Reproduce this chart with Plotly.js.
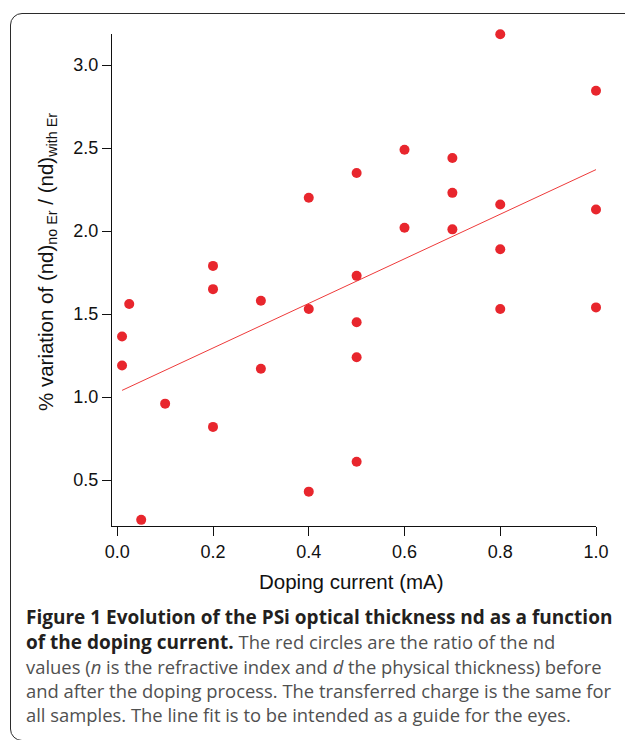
<!DOCTYPE html>
<html>
<head>
<meta charset="utf-8">
<script src="https://cdn.plot.ly/plotly-3.0.1.min.js"></script>
<style>
  html, body { margin: 0; padding: 0; background: #ffffff; overflow: hidden; }
  #wrap { position: relative; width: 625px; height: 740px; }
  #chart { position: absolute; left: 0; top: 0; width: 625px; height: 740px; }
  #frame { position: absolute; left: 10px; top: 13px; width: 640px; height: 728px;
           border: 1.6px solid #2b2b2b; border-radius: 12px; pointer-events: none; box-sizing: border-box; }
</style>
</head>
<body>
<div id="wrap">
  <div id="chart"></div>
  <div id="frame"></div>
</div>
<script>
// Data
const dopingCurrent = [0.01, 0.01, 0.025, 0.05, 0.1,
                       0.2, 0.2, 0.2, 0.3, 0.3,
                       0.4, 0.4, 0.4, 0.5, 0.5, 0.5, 0.5, 0.5,
                       0.6, 0.6, 0.7, 0.7, 0.7,
                       0.8, 0.8, 0.8, 0.8, 1.0, 1.0, 1.0];
const variation = [1.365, 1.19, 1.56, 0.26, 0.96,
                   1.79, 1.65, 0.82, 1.58, 1.17,
                   2.20, 1.53, 0.43, 2.35, 1.73, 1.45, 1.24, 0.61,
                   2.49, 2.02, 2.44, 2.23, 2.01,
                   3.185, 2.16, 1.89, 1.53, 2.845, 2.13, 1.54];
const fitX = [0.01, 1.0];
const fitY = [1.04, 2.37];

const xTickVals = [0.0, 0.2, 0.4, 0.6, 0.8, 1.0];
const xTickText = ["0.0", "0.2", "0.4", "0.6", "0.8", "1.0"];
const yTickVals = [0.5, 1.0, 1.5, 2.0, 2.5, 3.0];
const yTickText = ["0.5", "1.0", "1.5", "2.0", "2.5", "3.0"];

const xTitle = "Doping current (mA)";
const yTitle = "% variation of (nd)<sub>no Er</sub> / (nd)<sub>with Er</sub>";
const captionLines = [
  "<b>Figure 1 Evolution of the PSi optical thickness nd as a function</b>",
  "<b>of the doping current.</b> <span style='color:#505050;font-size:18.4px'>The red circles are the ratio of the nd</span>",
  "values (<i>n</i> is the refractive index and <i>d</i> the physical thickness) before",
  "and after the doping process. The transferred charge is the same for",
  "all samples. The line fit is to be intended as a guide for the eyes."
];

const W = 625, H = 740;
const mL = 112, mR = 29, mT = 34, mB = 214;
const pw = W - mL - mR, ph = H - mT - mB;
const px = v => (v - mL) / pw;
const py = v => (H - mB - v) / ph;

const redC = '#e8262d';
const traces = [
  {
    x: fitX, y: fitY, type: 'scatter', mode: 'lines',
    line: { color: '#ee3a3a', width: 1 }, hoverinfo: 'skip', cliponaxis: false
  },
  {
    x: dopingCurrent, y: variation, type: 'scatter', mode: 'markers',
    marker: { color: redC, size: 10, line: { width: 0 } }, cliponaxis: false
  }
];

const axisFont = { family: 'Liberation Sans, Arial, sans-serif', size: 18, color: '#111' };

const annotations = [
  { text: xTitle, xref: 'paper', yref: 'paper', x: px(351), y: py(581),
    xanchor: 'center', yanchor: 'middle', showarrow: false,
    font: { family: 'Liberation Sans, Arial, sans-serif', size: 20.5, color: '#111' } },
  { text: yTitle, xref: 'paper', yref: 'paper', x: px(47), y: py(262),
    xanchor: 'center', yanchor: 'middle', showarrow: false, textangle: -90,
    font: { family: 'Liberation Sans, Arial, sans-serif', size: 20.5, color: '#111' } }
];
const lineCenters = [617, 642, 666, 690, 714];
captionLines.forEach((t, i) => {
  const bold = (i === 0 || i === 1);
  annotations.push({
    text: t, xref: 'paper', yref: 'paper', x: px(24), y: py(lineCenters[i]),
    xanchor: 'left', yanchor: 'middle', showarrow: false, align: 'left',
    font: { family: 'Open Sans, sans-serif', size: bold ? 19 : 18.4, color: bold ? '#231f20' : '#505050' }
  });
});

const layout = {
  width: W, height: H,
  margin: { l: mL, r: mR, t: mT, b: mB, pad: 0 },
  paper_bgcolor: '#ffffff', plot_bgcolor: 'rgba(0,0,0,0)',
  showlegend: false,
  xaxis: {
    range: [-0.011, 1.0], showgrid: false, zeroline: false,
    showline: true, linecolor: '#111', linewidth: 1,
    ticks: 'outside', ticklen: 9, tickwidth: 1, tickcolor: '#111',
    tickvals: xTickVals, ticktext: xTickText, tickfont: axisFont
  },
  yaxis: {
    range: [0.223, 3.187], showgrid: false, zeroline: false,
    showline: true, linecolor: '#111', linewidth: 1,
    ticks: 'outside', ticklen: 9, tickwidth: 1, tickcolor: '#111',
    tickvals: yTickVals, ticktext: yTickText, tickfont: axisFont
  },
  annotations: annotations
};

Plotly.newPlot('chart', traces, layout, { displayModeBar: false, staticPlot: true });
</script>
</body>
</html>
